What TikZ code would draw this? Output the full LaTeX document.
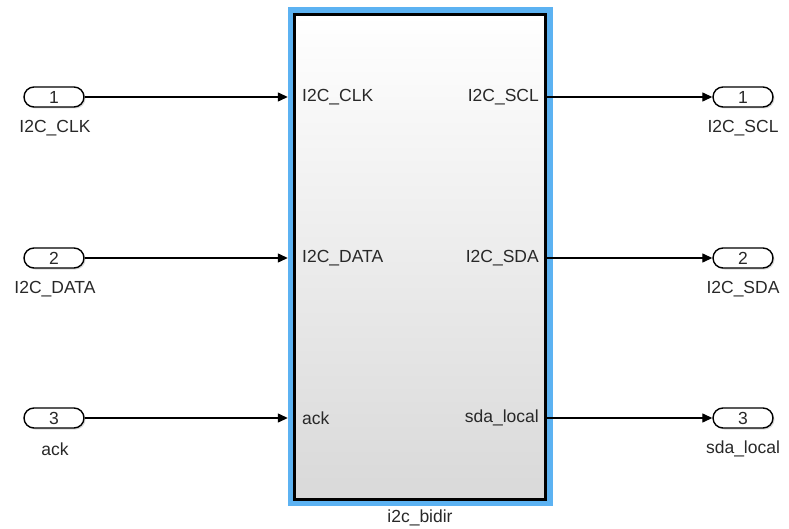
\documentclass[tikz,border=0pt]{standalone}
\usepackage{fontspec}
\setmainfont{Liberation Sans}
\usetikzlibrary{arrows.meta,shadows}
\definecolor{simblue}{RGB}{92,178,242}
\definecolor{txt}{RGB}{40,40,40}
\tikzset{
  pill/.style={draw=black, line width=1.4pt, fill=white, rounded corners=10pt,
    minimum width=60pt, minimum height=20pt, inner sep=0pt,
    font=\fontsize{17.5}{20}\selectfont, text=txt,
    drop shadow={shadow xshift=1.5pt, shadow yshift=-1.5pt, opacity=0.25, fill=black!60}},
  lbl/.style={font=\fontsize{17.5}{20}\selectfont, text=txt, inner sep=0pt},
  sig/.style={line width=1.3pt, -{Triangle[length=10pt,width=9pt]}}
}
\begin{document}
\begin{tikzpicture}[x=1pt,y=-1pt]
\useasboundingbox (0,0) rectangle (789,529);
% block
\node (blk) [fill=simblue, minimum width=265pt, minimum height=499pt, inner sep=0pt] at (420.5,256.5) {};
\node (core) [draw=black, line width=3pt, top color=white, bottom color=black!15,
  minimum width=251pt, minimum height=485pt, inner sep=0pt] at (420,257) {};
\node (blkname) [lbl] at (420,518) {i2c\_bidir};
% inner port labels
\node (pi1) [lbl, anchor=west] at (302,97) {I2C\_CLK};
\node (pi2) [lbl, anchor=west] at (302,258) {I2C\_DATA};
\node (pi3) [lbl, anchor=west] at (302,418) {ack};
\node (po1) [lbl, anchor=east] at (539,97) {I2C\_SCL};
\node (po2) [lbl, anchor=east] at (539,258) {I2C\_SDA};
\node (po3) [lbl, anchor=east] at (539,418) {sda\_local};
% inports
\node (in1) [pill] at (54,97) {1};
\node (in2) [pill] at (54,258) {2};
\node (in3) [pill] at (54,418) {3};
\node (in1l) [lbl] at (55,128) {I2C\_CLK};
\node (in2l) [lbl] at (55,289) {I2C\_DATA};
\node (in3l) [lbl] at (55,449) {ack};
% outports
\node (out1) [pill] at (743,97) {1};
\node (out2) [pill] at (743,258) {2};
\node (out3) [pill] at (743,418) {3};
\node (out1l) [lbl] at (743,128) {I2C\_SCL};
\node (out2l) [lbl] at (743,289) {I2C\_SDA};
\node (out3l) [lbl] at (743,449) {sda\_local};
% connectors
\draw[sig] (in1.east) -- (blk.west |- in1.east);
\draw[sig] (in2.east) -- (blk.west |- in2.east);
\draw[sig] (in3.east) -- (blk.west |- in3.east);
\draw[sig] (core.east |- out1.west) -- (out1.west);
\draw[sig] (core.east |- out2.west) -- (out2.west);
\draw[sig] (core.east |- out3.west) -- (out3.west);
\end{tikzpicture}
\end{document}
